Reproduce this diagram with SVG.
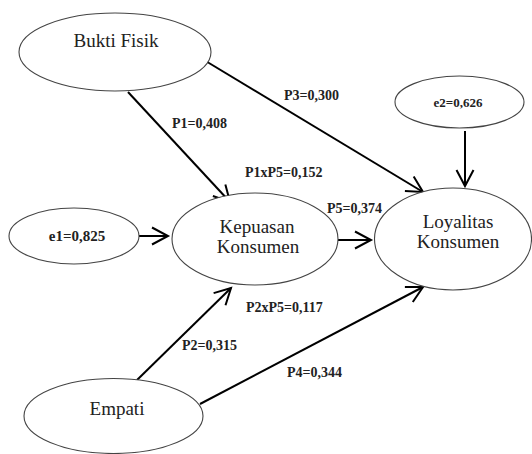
<svg xmlns="http://www.w3.org/2000/svg" width="532" height="454" viewBox="0 0 532 454" font-family="'Liberation Serif', 'DejaVu Serif', serif">
<defs>
<marker id="arr" markerUnits="userSpaceOnUse" markerWidth="20" markerHeight="20" refX="0" refY="0" viewBox="-18 -10 20 20" orient="auto" overflow="visible">
<path d="M-16,-8.5 L0,0 L-16,8.5" fill="none" stroke="#000" stroke-width="2"/>
</marker>
</defs>
<style>
.n{fill:#fff;stroke:#444;stroke-width:1.1}
text{font-family:'Liberation Serif','DejaVu Serif',serif}
.t{font-size:19px;fill:#222;text-anchor:middle}
.b{font-weight:bold;font-size:14px;fill:#222}
.e{stroke:#000;stroke-width:2;fill:none;marker-end:url(#arr)}
</style>
<rect width="532" height="454" fill="#fff"/>
<g id="connectors">
<line class="e" x1="128" y1="92" x2="230" y2="202"/>
<line class="e" x1="204" y1="60" x2="423" y2="192"/>
<line class="e" x1="139" y1="236" x2="168" y2="236"/>
<line class="e" x1="338" y1="240" x2="371" y2="240"/>
<line class="e" x1="465" y1="131" x2="465" y2="186"/>
<line class="e" x1="137" y1="380" x2="231" y2="288"/>
<line class="e" x1="200" y1="404" x2="423" y2="287"/>
</g>
<g id="labels">
<text class="b" x="172" y="128">P1=0,408</text>
<text class="b" x="284" y="100">P3=0,300</text>
<text class="b" x="245" y="177">P1xP5=0,152</text>
<text class="b" x="327" y="213">P5=0,374</text>
<text class="b" x="246" y="312">P2xP5=0,117</text>
<text class="b" x="182" y="350">P2=0,315</text>
<text class="b" x="287" y="377">P4=0,344</text>
</g>
<g id="bukti-fisik">
<ellipse class="n" cx="115" cy="52" rx="96" ry="39"/>
<text class="t" x="116" y="47">Bukti Fisik</text>
</g>
<g id="e2">
<ellipse class="n" cx="459.5" cy="102" rx="64.5" ry="26"/>
<text class="b" x="458" y="107" text-anchor="middle" style="font-size:13px">e2=0,626</text>
</g>
<g id="e1">
<ellipse class="n" cx="74" cy="236" rx="65" ry="28"/>
<text class="b" x="77" y="241" text-anchor="middle" style="font-size:15px">e1=0,825</text>
</g>
<g id="kepuasan">
<ellipse class="n" cx="255" cy="239" rx="83" ry="46"/>
<text class="t" x="257" y="233">Kepuasan</text>
<text class="t" x="258" y="253">Konsumen</text>
</g>
<g id="loyalitas">
<ellipse class="n" cx="453" cy="239" rx="78.5" ry="51"/>
<text class="t" x="458" y="228">Loyalitas</text>
<text class="t" x="458" y="248">Konsumen</text>
</g>
<g id="empati">
<ellipse class="n" cx="113.5" cy="416" rx="89.5" ry="37.5"/>
<text class="t" x="117" y="415">Empati</text>
</g>
</svg>
